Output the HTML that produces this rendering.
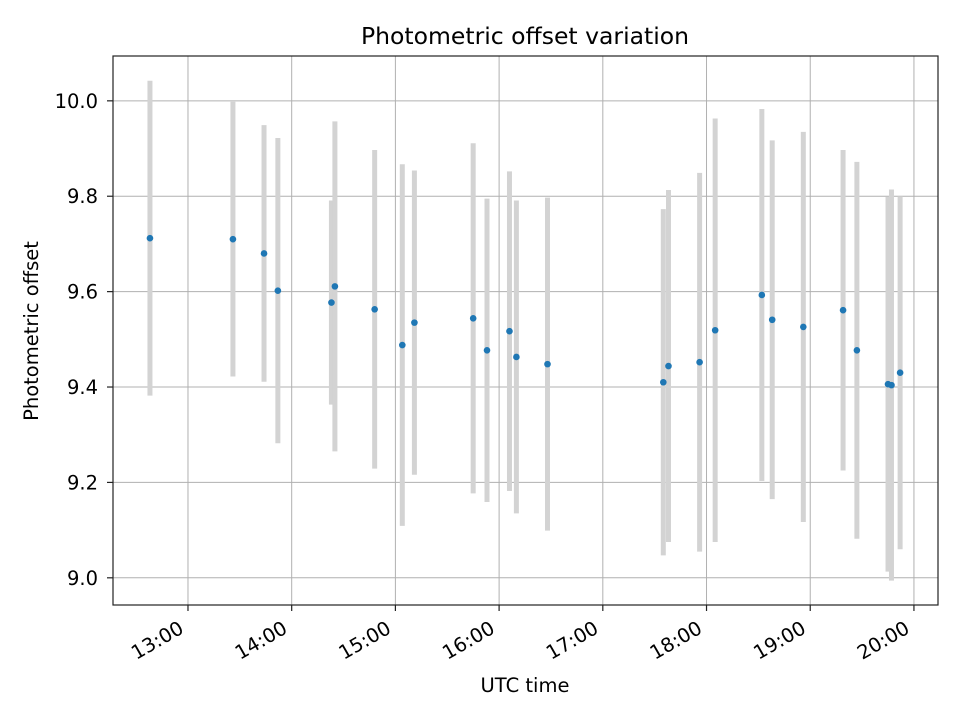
<!DOCTYPE html>
<html><head><meta charset="utf-8"><style>
body{margin:0;background:#fff}
svg{display:block;font-family:"DejaVu Sans","Liberation Sans",sans-serif}
</style></head><body>
<svg id="chart" width="960" height="720" xmlns="http://www.w3.org/2000/svg">
<rect width="960" height="720" fill="#fff"/>
<g id="grid"></g>
<g id="bars"></g>
<g id="pts"></g>
<rect x="113" y="56" width="825" height="549" fill="none" stroke="#222" stroke-width="1.2"/>
<g id="ticks"></g>
<text x="525" y="44" text-anchor="middle" font-size="23.5">Photometric offset variation</text>
<text x="525" y="692" text-anchor="middle" font-size="19.5">UTC time</text>
<text x="38" y="331" text-anchor="middle" font-size="19.5" transform="rotate(-90 38 331)">Photometric offset</text>
</svg>
<script>
const times = ["12:38","13:26","13:44","13:52","14:23","14:25","14:48","15:04","15:11","15:45","15:53","16:06","16:10","16:28","17:35","17:38","17:56","18:05","18:32","18:38","18:56","19:19","19:27","19:45","19:47","19:52"];
const offsets = [9.712,9.710,9.680,9.602,9.577,9.611,9.563,9.488,9.535,9.544,9.477,9.517,9.463,9.448,9.410,9.444,9.452,9.519,9.593,9.541,9.526,9.561,9.477,9.406,9.404,9.430];
const errors = [0.330,0.288,0.269,0.320,0.214,0.346,0.334,0.379,0.319,0.367,0.318,0.335,0.328,0.349,0.363,0.369,0.397,0.444,0.390,0.376,0.409,0.336,0.395,0.393,0.410,0.370];
const xTickLabels = ["13:00","14:00","15:00","16:00","17:00","18:00","19:00","20:00"];
const yTickLabels = ["9.0","9.2","9.4","9.6","9.8","10.0"];

const NS="http://www.w3.org/2000/svg";
const L=113,R=938,T=56,B=605;
const xMin=12.277,xMax=20.232,yMin=8.943,yMax=10.094;
function toH(s){const p=s.split(":");return +p[0]+ +p[1]/60;}
function xs(h){return L+(h-xMin)/(xMax-xMin)*(R-L);}
function ys(v){return B-(v-yMin)/(yMax-yMin)*(B-T);}
function mk(tag,attrs,parent){const e=document.createElementNS(NS,tag);for(const k in attrs)e.setAttribute(k,attrs[k]);parent.appendChild(e);return e;}
const grid=document.getElementById('grid'),ticks=document.getElementById('ticks');
xTickLabels.forEach(lab=>{
  const x=xs(toH(lab));
  const g=mk('line',{x1:x,x2:x,y1:T,y2:B,stroke:'#b0b0b0','stroke-width':1},grid);
  
  
  const t=mk('line',{x1:x,x2:x,y1:B,y2:B+6,stroke:'#222','stroke-width':1.2},ticks);
  
  
  const ax=x-3,ay=B+27;
  const tx=mk('text',{x:ax,y:ay,'text-anchor':'end','font-size':19.5,transform:`rotate(-30 ${ax} ${ay})`},ticks);
  tx.textContent=lab;
  
  
});
yTickLabels.forEach(lab=>{
  const y=ys(+lab);
  const g=mk('line',{x1:L,x2:R,y1:y,y2:y,stroke:'#b0b0b0','stroke-width':1},grid);
  
  
  const t=mk('line',{x1:L-6,x2:L,y1:y,y2:y,stroke:'#222','stroke-width':1.2},ticks);
  
  
  const tx=mk('text',{x:L-15,y:y+7,'text-anchor':'end','font-size':19.5},ticks);
  tx.textContent=lab;
  
  
});
const bars=document.getElementById('bars'),pts=document.getElementById('pts');
times.forEach((t,i)=>{
  const x=xs(toH(t));
  const b=mk('line',{x1:x,x2:x,y1:ys(offsets[i]+errors[i]),y2:ys(offsets[i]-errors[i]),stroke:'#d3d3d3','stroke-width':5},bars);
  
  
  const c=mk('circle',{cx:x,cy:ys(offsets[i]),r:3.3,fill:'#1f77b4'},pts);
  
  
});
</script>
</body></html>
